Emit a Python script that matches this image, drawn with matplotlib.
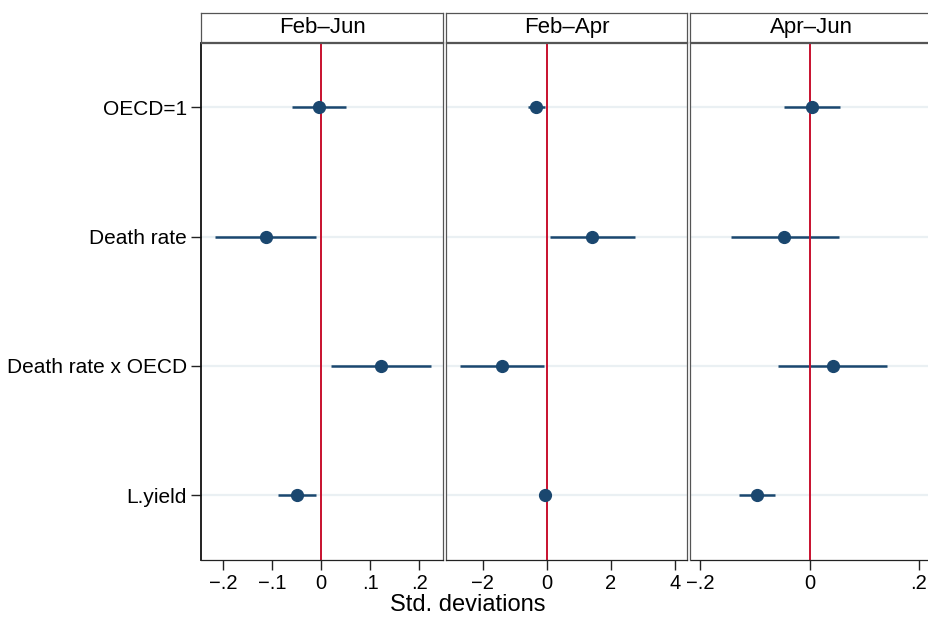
import matplotlib
matplotlib.use("Agg")
import matplotlib.pyplot as plt
import numpy as np

plt.rcParams["font.family"] = ["Liberation Sans", "DejaVu Sans"]

# --- datos ---
variables = ["OECD=1", "Death rate", "Death rate x OECD", "L.yield"]
periodos = ["Feb\u2013Jun", "Feb\u2013Apr", "Apr\u2013Jun"]

coef_febjun = [-0.004, -0.113, 0.122, -0.049]
low_febjun = [-0.059, -0.216, 0.021, -0.087]
high_febjun = [0.051, -0.011, 0.225, -0.010]

coef_febapr = [-0.33, 1.42, -1.41, -0.05]
low_febapr = [-0.60, 0.09, -2.72, -0.09]
high_febapr = [-0.06, 2.74, -0.08, -0.01]

coef_aprjun = [0.004, -0.046, 0.043, -0.097]
low_aprjun = [-0.046, -0.144, -0.057, -0.130]
high_aprjun = [0.055, 0.054, 0.142, -0.064]

ticks_febjun = [-0.2, -0.1, 0, 0.1, 0.2]
labels_febjun = ["\u2212.2", "\u2212.1", "0", ".1", ".2"]
ticks_febapr = [-2, 0, 2, 4]
labels_febapr = ["\u22122", "0", "2", "4"]
ticks_aprjun = [-0.2, 0, 0.2]
labels_aprjun = ["\u2212.2", "0", ".2"]

paneles = [
    (coef_febjun, low_febjun, high_febjun, ticks_febjun, labels_febjun, (-0.245, 0.250)),
    (coef_febapr, low_febapr, high_febapr, ticks_febapr, labels_febapr, (-3.13, 4.39)),
    (coef_aprjun, low_aprjun, high_aprjun, ticks_aprjun, labels_aprjun, (-0.218, 0.226)),
]

W, H = 929, 617
fig = plt.figure(figsize=(W / 100, H / 100), dpi=100)

navy = "#1a476f"
rojo = "#c8102e"
marco = "#555555"

# posiciones en píxeles (izquierda, derecha) de cada panel
bordes = [(201, 443.5), (446.5, 687.5), (690.5, 933)]
y_top, y_bot = 42.5, 560
s_top, s_bot = 12.5, 41.5

pos = np.arange(1, len(variables) + 1)

for i, (coef, lo, hi, ticks, tlabels, xlim) in enumerate(paneles):
    x0, x1 = bordes[i]
    ax = fig.add_axes([x0 / W, 1 - y_bot / H, (x1 - x0) / W, (y_bot - y_top) / H])

    ax.set_yticks(pos)
    ax.grid(axis="y", color="#eaf0f3", lw=1.6, zorder=0)
    ax.hlines(pos, lo, hi, color=navy, lw=1.8, zorder=2)
    ax.axvline(0, color=rojo, lw=1.4, zorder=2.5)
    ax.plot(coef, pos, "o", color=navy, ms=8.5, zorder=3)

    ax.set_xlim(*xlim)
    ax.set_ylim(4.5, 0.5)
    ax.set_xticks(ticks)
    ax.set_xticklabels(tlabels, fontsize=14.5)
    ax.tick_params(axis="x", length=7, width=1, color="#222222", pad=3)

    for sp in ax.spines.values():
        sp.set_color(marco)
        sp.set_linewidth(0.9)
    ax.spines["bottom"].set_color("#222222")

    if i == 0:
        ax.set_yticklabels(variables, fontsize=15)
        ax.tick_params(axis="y", length=7, width=1, color="#222222", pad=3)
        ax.spines["left"].set_color("#111111")
        ax.spines["left"].set_linewidth(1.3)
    else:
        ax.set_yticklabels([])
        ax.tick_params(axis="y", length=0)

    # cabecera del panel
    sax = fig.add_axes([x0 / W, 1 - s_bot / H, (x1 - x0) / W, (s_bot - s_top) / H])
    sax.set_xticks([])
    sax.set_yticks([])
    for sp in sax.spines.values():
        sp.set_color(marco)
        sp.set_linewidth(0.9)
    sax.text(0.5, 0.47, periodos[i], ha="center", va="center", fontsize=16,
             transform=sax.transAxes)

fig.text(468 / W, 1 - 605 / H, "Std. deviations", ha="center", va="center", fontsize=17)

fig.savefig("out.png", dpi=100)
